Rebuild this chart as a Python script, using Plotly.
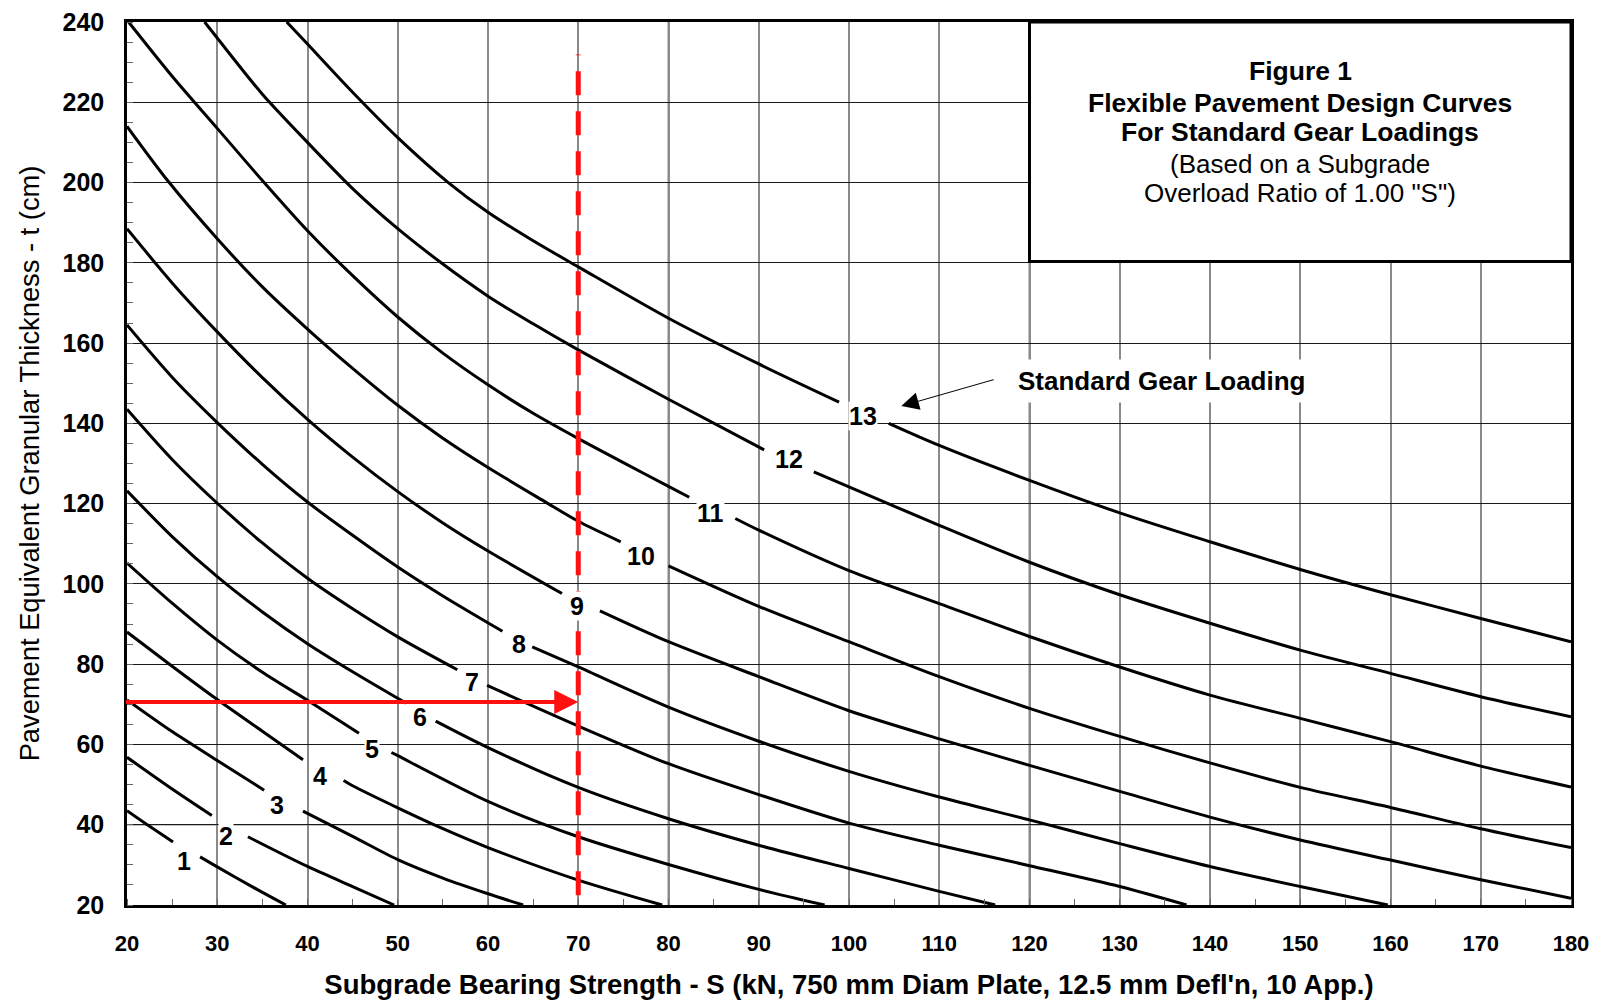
import plotly.graph_objects as go

# ---------------- data ----------------
x_ticks = list(range(20, 181, 10))
y_ticks = list(range(20, 241, 20))
dark_x_grid = [30, 80, 120, 140]
light_y_grid = [40]

s1 = [20, 22.5, 25.1, None, 28.1, 30, 34, 37.6]
t1 = [43.5, 39.6, 35.7, None, 32.0, 29.5, 24.4, 20]

s2 = [20, 25, 29.4, None, 33.4, 40, 45, 49.6]
t2 = [56.8, 48.9, 42.3, None, 37.0, 29.6, 24.6, 20]

s3 = [20, 25, 30, 35.2, None, 39.5, 45, 50, 55, 60, 63.9]
t3 = [71.1, 63.2, 56.0, 48.6, None, 43.4, 37.1, 31.3, 26.7, 22.8, 20]

s4 = [20, 25, 30, 35, 39.5, None, 44, 45, 50, 55, 60, 70, 79.3]
t4 = [88.0, 79.5, 71.2, 63.3, 56.2, None, 51.0, 49.7, 44.2, 39.0, 34.3, 26.2, 20]

s5 = [20, 25, 30, 35, 40, 45.7, None, 49.3, 50, 60, 70, 80, 90, 97.3]
t5 = [105.2, 95.2, 86.0, 78.0, 71.0, 62.8, None, 58.0, 57.2, 45.8, 37.0, 30.1, 23.9, 20]

s6 = [20, 25, 30, 35, 40, 45, 50.9, None, 54.2, 60, 70, 80, 90, 100, 110, 116.2]
t6 = [123.2, 111.8, 101.8, 93.0, 85.1, 78.1, 70.3, None, 65.8, 59.2, 49.3, 41.5, 34.9, 29.1, 23.4, 20]

s7 = [20, 25, 30, 35, 40, 45, 50, 56.6, None, 59.9, 70, 80, 90, 100, 110, 120, 130, 137.4]
t7 = [143.5, 131.0, 120.1, 110.2, 101.4, 93.8, 86.8, 78.6, None, 74.7, 64.6, 55.2, 47.5, 40.4, 34.9, 29.8, 24.6, 20]

s8 = [20, 25, 30, 35, 40, 45, 50, 55, 61.6, None, 64.9, 70, 80, 90, 100, 110, 120, 130, 140, 150, 159.7]
t8 = [164.5, 151.5, 140.2, 129.8, 120.4, 112.1, 104.2, 97.0, 88.2, None, 84.3, 79.3, 69.3, 60.8, 53.3, 46.9, 41.2, 35.3, 29.6, 24.6, 20]

s9 = [20, 25, 30, 35, 40, 45, 50, 55, 60, 68.2, None, 72.4, 80, 90, 100, 110, 120, 130, 140, 150, 160, 170, 180]
t9 = [188.5, 175.0, 162.8, 151.4, 141.0, 131.6, 123.0, 115.2, 108.2, 97.6, None, 93.3, 85.6, 76.9, 68.4, 61.4, 54.8, 48.3, 41.9, 36.2, 31.2, 26.3, 21.7]

s10 = [20, 24.5, 30, 35, 40, 45, 50, 55, 60, 66.3, 70, 74.7, None, 80, 90, 100, 110, 120, 130, 140, 150, 160, 170, 180]
t10 = [214.0, 200.5, 186.0, 174.0, 163.5, 153.7, 144.5, 136.3, 129.0, 120.5, 115.6, 110.5, None, 104.5, 94.4, 85.6, 76.9, 69.0, 62.0, 55.4, 49.3, 44.3, 39.0, 34.3]

s11 = [20, 25, 30, 35, 40, 45, 50, 55, 60, 65, 70, 75, 80, 82.3, None, 87.4, 90, 100, 110, 120, 130, 140, 150, 160, 170, 180]
t11 = [240.5, 226.5, 213.5, 200.5, 188.0, 176.8, 166.5, 157.5, 149.6, 142.5, 136.2, 130.2, 124.3, 121.6, None, 116.3, 113.4, 103.3, 95.1, 86.9, 79.3, 72.3, 66.5, 60.7, 54.6, 49.4]

s12 = [28.6, 30, 35, 40, 45, 50, 54.7, 60, 65, 70, 80, 90.6, None, 96.1, 100, 110, 120, 130, 140, 150, 160, 170, 180]
t12 = [240.0, 236.0, 222.0, 210.0, 198.5, 188.5, 180.2, 171.7, 164.8, 158.3, 146.0, 133.4, None, 127.9, 124.2, 114.6, 105.4, 97.3, 90.2, 83.5, 77.7, 71.9, 66.9]

s13 = [37.7, 40, 45, 50, 55.6, 60, 65, 70, 80, 90, 98.9, None, 104.4, 110, 120, 130, 140, 150, 160, 170, 180]
t13 = [240.0, 234.5, 222.5, 211.2, 200.0, 192.6, 185.5, 179.0, 166.2, 154.8, 145.3, None, 140.0, 134.5, 125.8, 117.7, 110.5, 103.6, 97.3, 91.4, 85.6]

curve_s = [s1, s2, s3, s4, s5, s6, s7, s8, s9, s10, s11, s12, s13]
curve_t = [t1, t2, t3, t4, t5, t6, t7, t8, t9, t10, t11, t12, t13]

label_text = ["1", "2", "3", "4", "5", "6", "7", "8", "9", "10", "11", "12", "13"]
label_s = [26.3, 31.0, 36.6, 41.4, 47.2, 52.5, 58.2, 63.4, 69.9, 77.0, 84.6, 93.3, 101.5]
label_t = [31.0, 37.2, 45.0, 52.1, 58.9, 66.9, 75.5, 85.0, 94.4, 107.0, 117.7, 131.1, 141.9]

design_S = 70          # red dashed vertical reference
design_line_t = [22.4, 231.9]
design_t = 70.6        # red horizontal arrow level

box_lines = ["Figure 1", "Flexible Pavement Design Curves", "For Standard Gear Loadings",
             "(Based on a Subgrade", "Overload Ratio of 1.00 \"S\")"]
box_line_t = [227.8, 219.9, 212.5, 204.6, 197.4]
box_bold = [True, True, True, False, False]

FONT = "Liberation Sans, Arial, sans-serif"

fig = go.Figure()

for s, t in zip(curve_s, curve_t):
    fig.add_trace(go.Scatter(x=s, y=t, mode="lines", connectgaps=False,
                             line=dict(color="black", width=3, shape="spline", smoothing=0.8),
                             hoverinfo="skip", showlegend=False))

fig.add_trace(go.Scatter(x=[design_S, design_S], y=design_line_t, mode="lines",
                         line=dict(color="#ff1010", width=5, dash="24px,16px"),
                         hoverinfo="skip", showlegend=False))

annotations = []
for txt, lx, ly in zip(label_text, label_s, label_t):
    annotations.append(dict(x=lx, y=ly, text=txt, showarrow=False, xref="x", yref="y",
                            font=dict(family=FONT, size=25, color="black", weight="bold"),
                            bgcolor="white", borderpad=0))

# red arrow
annotations.append(dict(x=design_S, y=design_t, ax=19.7, ay=design_t, xref="x", yref="y",
                        axref="x", ayref="y", text="", showarrow=True, arrowhead=2,
                        arrowsize=1.2, arrowwidth=4, arrowcolor="#ff1010"))

# Standard Gear Loading
annotations.append(dict(x=134.7, y=150.5, text="Standard Gear Loading", showarrow=False,
                        xref="x", yref="y", bgcolor="white", borderpad=6,
                        font=dict(family=FONT, size=26, color="black", weight="bold")))
annotations.append(dict(x=105.8, y=144.3, ax=116.2, ay=151.0, xref="x", yref="y",
                        axref="x", ayref="y", text="", showarrow=True, arrowhead=2,
                        arrowsize=3.5, arrowwidth=1, arrowcolor="black"))

for txt, ty, b in zip(box_lines, box_line_t, box_bold):
    annotations.append(dict(x=150, y=ty, text=txt, showarrow=False, xref="x", yref="y",
                            font=dict(family=FONT, size=26.5 if b else 26, color="black",
                                      weight="bold" if b else "normal")))

shapes = [dict(type="line", xref="x", yref="paper", x0=gx, x1=gx, y0=0, y1=1,
               line=dict(color="#111111", width=1.5), layer="between") for gx in dark_x_grid]
shapes += [dict(type="line", xref="paper", yref="y", x0=0, x1=1, y0=gy, y1=gy,
                line=dict(color="#8a8a8a", width=1.6), layer="between") for gy in light_y_grid]
shapes.append(dict(type="rect", xref="x", yref="y", x0=120, x1=180, y0=180.3, y1=240,
                   line=dict(color="black", width=3), fillcolor="white", layer="between"))

fig.update_layout(
    width=1603, height=1001,
    margin=dict(l=119, r=40, t=14, b=104, autoexpand=False),
    paper_bgcolor="white", plot_bgcolor="white",
    annotations=annotations,
    shapes=shapes,
    font=dict(family=FONT, color="black"),
)

fig.update_xaxes(range=[20, 180], tickvals=x_ticks, ticktext=[str(v) for v in x_ticks],
                 showgrid=True, gridcolor="#8a8a8a", gridwidth=1.5,
                 showline=True, linecolor="black", linewidth=2.5, mirror=True,
                 ticks="", ticklabelstandoff=17, zeroline=False, ticklabeloverflow="allow",
                 tickfont=dict(family=FONT, size=22, color="black", weight="bold"),
                 minor=dict(dtick=5, tick0=20, ticks="inside", ticklen=6, tickcolor="#666", showgrid=False),
                 title=dict(text="Subgrade Bearing Strength - S (kN, 750 mm Diam Plate, 12.5 mm Defl'n, 10 App.)",
                            font=dict(family=FONT, size=27.5, color="black", weight="bold"), standoff=20))
fig.update_yaxes(range=[20, 240], tickvals=y_ticks, ticktext=[str(v) for v in y_ticks],
                 showgrid=True, gridcolor="#1a1a1a", gridwidth=1.2,
                 showline=True, linecolor="black", linewidth=2.5, mirror=True,
                 ticks="", ticklabelstandoff=15, zeroline=False, ticklabeloverflow="allow",
                 tickfont=dict(family=FONT, size=25, color="black", weight="bold"),
                 minor=dict(dtick=5, tick0=20, ticks="inside", ticklen=6, tickcolor="#666", showgrid=False),
                 title=dict(text="Pavement Equivalent Granular Thickness - t (cm)",
                            font=dict(family=FONT, size=27.3, color="black"), standoff=15))

fig.write_html("out.html")
